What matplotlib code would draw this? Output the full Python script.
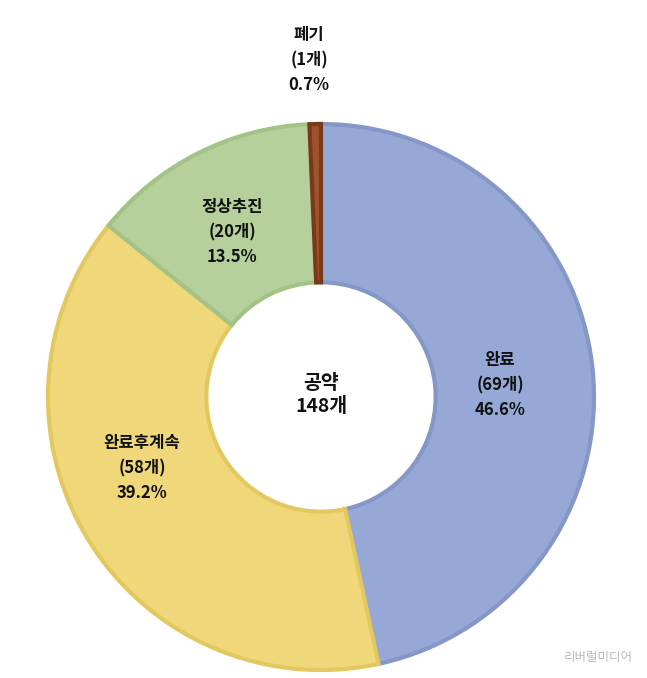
import matplotlib
matplotlib.use("Agg")
import matplotlib.pyplot as plt

plt.rcParams['font.family'] = ['Noto Sans CJK KR', 'DejaVu Sans']

categories = ["완료", "완료후계속", "정상추진", "폐기"]
counts = [69, 58, 20, 1]
percents = [46.6, 39.2, 13.5, 0.7]
colors = ["#95A8D6", "#F0D77A", "#B5D09A", "#A0522D"]
edges = ["#8497C6", "#E3C860", "#A3C286", "#7A3A1A"]

W, H = 647, 678
fig = plt.figure(figsize=(W/100, H/100), dpi=100)
ax = fig.add_axes([0, 0, 1, 1])
ax.set_xlim(0, W); ax.set_ylim(0, H); ax.axis('off')

cx, cy, R = 321, 281, 273
wedges, _ = ax.pie(counts, colors=colors, startangle=90, counterclock=False,
                   center=(cx, cy), radius=R, frame=True,
                   wedgeprops=dict(width=R*0.58, linewidth=3))
for w, e in zip(wedges, edges):
    w.set_edgecolor(e)
ax.set_xlim(0, W); ax.set_ylim(0, H); ax.set_aspect('equal'); ax.axis('off')

pos = {"완료": (500, 293), "완료후계속": (142, 210), "정상추진": (232, 446), "폐기": (309, 618)}
for c, n, p in zip(categories, counts, percents):
    x, y = pos[c]
    ax.text(x, y, f"{c}\n({n}개)\n{p}%", ha='center', va='center', fontsize=12,
            fontweight='bold', linespacing=1.5, color='#111111')
ax.text(cx, cy + 2, "공약\n148개", ha='center', va='center', fontsize=14,
        fontweight='bold', linespacing=1.3, color='#111111')
ax.text(598, 20, "리버럴미디어", ha='center', va='center', fontsize=9, color='#BBBBBB')
fig.savefig("out.png", dpi=100)
